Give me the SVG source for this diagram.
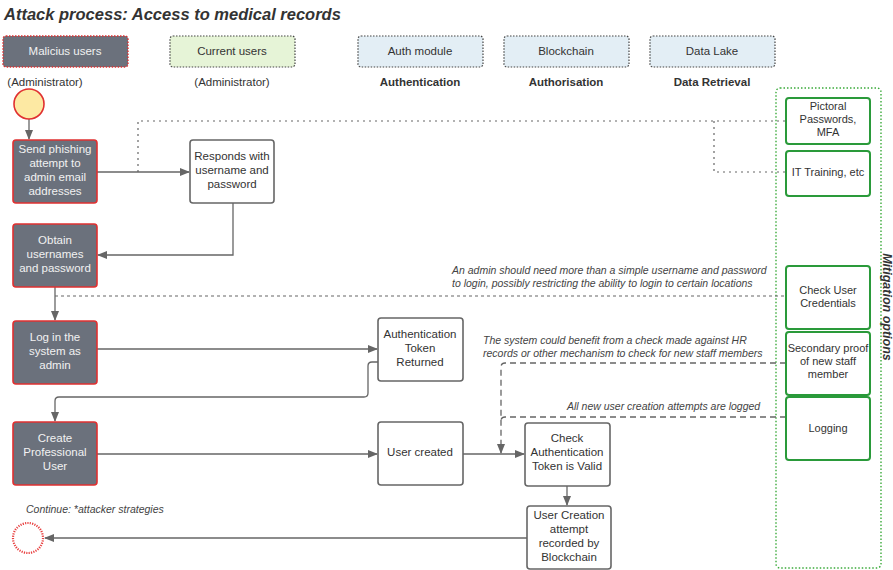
<svg xmlns="http://www.w3.org/2000/svg" width="893" height="570" viewBox="0 0 893 570">
<defs>
<marker id="arr" markerWidth="10" markerHeight="8" refX="9" refY="4" orient="auto" markerUnits="userSpaceOnUse">
<path d="M0,0 L10,4 L0,8 Z" fill="#666"/>
</marker>
<style>
.t{font-family:"Liberation Sans",Arial,sans-serif;font-size:11.5px;text-anchor:middle;fill:#333}
.w{fill:#f2f2f2}
.dark{fill:#6b717c;stroke:#e03030;stroke-width:1.6}
.wb{fill:#fff;stroke:#666;stroke-width:1.6}
.gb{fill:#fff;stroke:#2a9a3a;stroke-width:2}
.hdr{stroke:#444;stroke-width:1.2;stroke-dasharray:1.5,1.5}
.lab{font-family:"Liberation Sans",Arial,sans-serif;font-size:11.5px;text-anchor:middle;fill:#333}
.b{font-weight:bold}
.it{font-family:"Liberation Sans",Arial,sans-serif;font-size:10.5px;font-style:italic;fill:#444}
.c{fill:none;stroke:#666;stroke-width:1.3}
.dot{fill:none;stroke:#666;stroke-width:1.2;stroke-dasharray:2,4}
.dsh{fill:none;stroke:#666;stroke-width:1.2;stroke-dasharray:3,3}
.lds{fill:none;stroke:#666;stroke-width:1.3;stroke-dasharray:6,4}
</style>
</defs>
<rect width="893" height="570" fill="#fff"/>
<text x="4" y="20" font-family="Liberation Sans,Arial,sans-serif" font-size="16.5" font-weight="bold" font-style="italic" fill="#333">Attack process: Access to medical records</text>

<g id="header">
<rect x="3" y="36" width="125" height="31" rx="3" fill="#6b717c" stroke="#e03030" stroke-width="1.4" stroke-dasharray="1.5,1.5"/>
<text class="t w" x="65" y="55">Malicius users</text>
<rect class="hdr" x="170" y="36" width="125" height="31" rx="3" fill="#e6f4d7"/>
<text class="t" x="232" y="55">Current users</text>
<rect class="hdr" x="358" y="36" width="125" height="31" rx="3" fill="#e3eef5"/>
<text class="t" x="420" y="55">Auth module</text>
<rect class="hdr" x="504" y="36" width="125" height="31" rx="3" fill="#e3eef5"/>
<text class="t" x="566" y="55">Blockchain</text>
<rect class="hdr" x="650" y="36" width="125" height="31" rx="3" fill="#e3eef5"/>
<text class="t" x="712" y="55">Data Lake</text>
<text class="lab" x="45" y="86">(Administrator)</text>
<text class="lab" x="232" y="86">(Administrator)</text>
<text class="lab b" x="420" y="86">Authentication</text>
<text class="lab b" x="566" y="86">Authorisation</text>
<text class="lab b" x="712" y="86">Data Retrieval</text>
</g>

<g id="mitigation">
<rect x="776" y="88" width="105" height="480" rx="4" fill="none" stroke="#3aaa3a" stroke-width="1.4" stroke-dasharray="1.5,2"/>
<text x="0" y="0" transform="translate(883,307) rotate(90)" font-family="Liberation Sans,Arial,sans-serif" font-size="12.5" font-weight="bold" font-style="italic" fill="#333" text-anchor="middle">Mitigation options</text>
</g>

<g id="connectors">
<line class="c" x1="29" y1="119" x2="29" y2="139" marker-end="url(#arr)"/>
<line class="c" x1="97" y1="172" x2="189" y2="172" marker-end="url(#arr)"/>
<polyline class="c" points="233,203 233,255 98,255" marker-end="url(#arr)"/>
<line class="c" x1="55" y1="287" x2="55" y2="320" marker-end="url(#arr)"/>
<line class="c" x1="97" y1="349" x2="377" y2="349" marker-end="url(#arr)"/>
<path class="c" d="M378,362 H372 Q368,362 368,366 V393 Q368,397 364,397 H59 Q55,397 55,401 V421" marker-end="url(#arr)"/>
<line class="c" x1="97" y1="454" x2="377" y2="454" marker-end="url(#arr)"/>
<line class="c" x1="463" y1="454" x2="524" y2="454" marker-end="url(#arr)"/>
<line class="c" x1="567" y1="486" x2="567" y2="505" marker-end="url(#arr)"/>
<line class="c" x1="527" y1="538" x2="45" y2="538" marker-end="url(#arr)"/>
<polyline class="dot" points="138,172 138,121 786,121"/>
<polyline class="dot" points="714,121 714,172 786,172"/>
<polyline class="dsh" points="55,296 786,296"/>
<path class="lds" d="M786,363 H505 Q501,363 501,367 V453" marker-end="url(#arr)"/>
<path class="lds" d="M786,417 H505 Q501,417 501,421"/>
</g>

<g id="notes">
<text class="it" x="452" y="274">An admin should need more than a simple username and password</text>
<text class="it" x="452" y="287">to login, possibly restricting the ability to login to certain locations</text>
<text class="it" x="483" y="344">The system could benefit from a check made against HR</text>
<text class="it" x="483" y="357">records or other mechanism to check for new staff members</text>
<text class="it" x="567" y="410">All new user creation attempts are logged</text>
<text class="it" x="26" y="513">Continue: *attacker strategies</text>
</g>

<g id="start"><circle cx="29" cy="104" r="15" fill="#fde9a3" stroke="#e03030" stroke-width="1.6"/></g>
<g id="end"><circle cx="28" cy="538" r="15" fill="#fff" stroke="#e84040" stroke-width="2.2" stroke-dasharray="1.2,1.2"/></g>

<g id="phishing"><rect class="dark" x="13" y="140" width="84" height="63" rx="3"/>
<text class="t w"><tspan x="55" y="153">Send phishing</tspan><tspan x="55" y="167">attempt to</tspan><tspan x="55" y="181">admin email</tspan><tspan x="55" y="195">addresses</tspan></text></g>
<g id="responds"><rect class="wb" x="190" y="140" width="84" height="63" rx="3"/>
<text class="t"><tspan x="232" y="160">Responds with</tspan><tspan x="232" y="174">username and</tspan><tspan x="232" y="188">password</tspan></text></g>
<g id="obtain"><rect class="dark" x="13" y="224" width="84" height="63" rx="3"/>
<text class="t w"><tspan x="55" y="244">Obtain</tspan><tspan x="55" y="258">usernames</tspan><tspan x="55" y="272">and password</tspan></text></g>
<g id="login"><rect class="dark" x="13" y="321" width="84" height="63" rx="3"/>
<text class="t w"><tspan x="55" y="341">Log in the</tspan><tspan x="55" y="355">system as</tspan><tspan x="55" y="369">admin</tspan></text></g>
<g id="authtoken"><rect class="wb" x="378" y="318" width="85" height="63" rx="3"/>
<text class="t"><tspan x="420" y="338">Authentication</tspan><tspan x="420" y="352">Token</tspan><tspan x="420" y="366">Returned</tspan></text></g>
<g id="create"><rect class="dark" x="13" y="422" width="84" height="63" rx="3"/>
<text class="t w"><tspan x="55" y="442">Create</tspan><tspan x="55" y="456">Professional</tspan><tspan x="55" y="470">User</tspan></text></g>
<g id="usercreated"><rect class="wb" x="378" y="422" width="85" height="63" rx="3"/>
<text class="t" x="420" y="456">User created</text></g>
<g id="check"><rect class="wb" x="525" y="423" width="85" height="63" rx="3"/>
<text class="t"><tspan x="567" y="442">Check</tspan><tspan x="567" y="456">Authentication</tspan><tspan x="567" y="470">Token is Valid</tspan></text></g>
<g id="recorded"><rect class="wb" x="527" y="506" width="84" height="63" rx="3"/>
<text class="t"><tspan x="569" y="519">User Creation</tspan><tspan x="569" y="533">attempt</tspan><tspan x="569" y="547">recorded by</tspan><tspan x="569" y="561">Blockchain</tspan></text></g>

<g id="m-pictoral"><rect class="gb" x="786" y="98" width="84" height="46" rx="3"/>
<text class="t" style="font-size:11px"><tspan x="828" y="110">Pictoral</tspan><tspan x="828" y="123">Passwords,</tspan><tspan x="828" y="136">MFA</tspan></text></g>
<g id="m-training"><rect class="gb" x="786" y="151" width="84" height="45" rx="3"/>
<text class="t" style="font-size:11px" x="828" y="176">IT Training, etc</text></g>
<g id="m-credentials"><rect class="gb" x="786" y="266" width="84" height="63" rx="3"/>
<text class="t" style="font-size:11px"><tspan x="828" y="294">Check User</tspan><tspan x="828" y="307">Credentials</tspan></text></g>
<g id="m-secondary"><rect class="gb" x="786" y="332" width="84" height="63" rx="3"/>
<text class="t" style="font-size:11px"><tspan x="828" y="352">Secondary proof</tspan><tspan x="828" y="365">of new staff</tspan><tspan x="828" y="378">member</tspan></text></g>
<g id="m-logging"><rect class="gb" x="786" y="397" width="84" height="63" rx="3"/>
<text class="t" style="font-size:11px" x="828" y="432">Logging</text></g>
</svg>
